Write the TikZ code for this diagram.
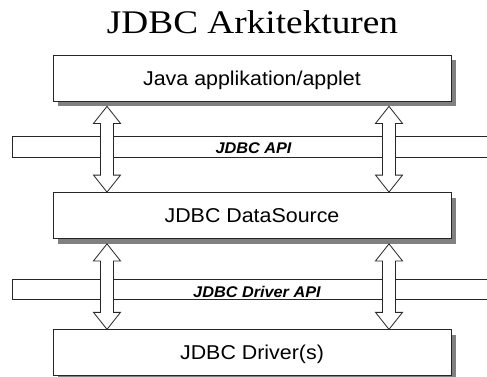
\documentclass[tikz,border=0pt]{standalone}
\usepackage{fontspec}
\setmainfont{Liberation Serif}
\newfontfamily\arialfont{Liberation Sans}
\usetikzlibrary{calc,shadows}

\tikzset{
  layerbox/.style={draw=black!85, line width=0.8pt, fill=white,
    minimum width=398pt, minimum height=46pt, inner sep=0pt,
    text height=14.3pt, text depth=0pt,
    font=\arialfont\fontsize{20}{24}\selectfont,
    general shadow={fill=black!50, shadow xshift=5pt, shadow yshift=-5pt}},
  bandline/.style={draw=black!85, line width=0.8pt, fill=white},
  bandlabel/.style={inner sep=0pt, text height=11pt, text depth=0pt,
    font=\arialfont\bfseries\itshape\fontsize{15.5}{18}\selectfont},
  biarrow/.style={draw=black!85, line width=0.8pt, fill=white, line join=miter},
}

% hollow two-headed arrow at x = #1 between anchors #2 (upper) and #3 (lower)
\newcommand\hollowbiarrow[3]{%
  \draw[biarrow] let \p1=#2, \p2=#3 in
    (#1,\y1) -- (#1+13.5pt,\y1-17pt) -- (#1+6.5pt,\y1-17pt)
    -- (#1+6.5pt,\y2+17pt) -- (#1+13.5pt,\y2+17pt) -- (#1,\y2)
    -- (#1-13.5pt,\y2+17pt) -- (#1-6.5pt,\y2+17pt)
    -- (#1-6.5pt,\y1-17pt) -- (#1-13.5pt,\y1-17pt) -- cycle;}

\begin{document}
\begin{tikzpicture}[x=1pt,y=1pt]
  \useasboundingbox (0,0) rectangle (487,376);

  % title
  \node[anchor=base, inner sep=0pt, font=\fontsize{33}{40}\selectfont]
    (title) at (252.5,342.7) {\scalebox{1.13}[1]{JDBC Arkitekturen}};

  % API bands running off the right edge
  \draw[bandline] (490,240) -| (12,219) -- (490,219);
  \node[bandlabel] (api) at (253.5,227.7) {\scalebox{1.05}[1]{JDBC API}};
  \draw[bandline] (490,97) -| (12,77) -- (490,77);
  \node[bandlabel] (drvapi) at (257,84.3) {\scalebox{1.05}[1]{JDBC Driver API}};

  % layers
  \node[layerbox] (app) at (252,298) {\scalebox{1.07}[1]{Java applikation/applet}};
  \node[layerbox] (ds) at (252,160.5) {\scalebox{1.07}[1]{JDBC DataSource}};
  \node[layerbox] (drv) at (252,23.25) {\scalebox{1.07}[1]{JDBC Driver(s)}};

  % connections between the layers
  \hollowbiarrow{107pt}{($(app.south)+(0,-5)$)}{(ds.north)}
  \hollowbiarrow{389pt}{($(app.south)+(0,-5)$)}{(ds.north)}
  \hollowbiarrow{107pt}{($(ds.south)+(0,-5)$)}{(drv.north)}
  \hollowbiarrow{389pt}{($(ds.south)+(0,-5)$)}{(drv.north)}
\end{tikzpicture}
\end{document}
